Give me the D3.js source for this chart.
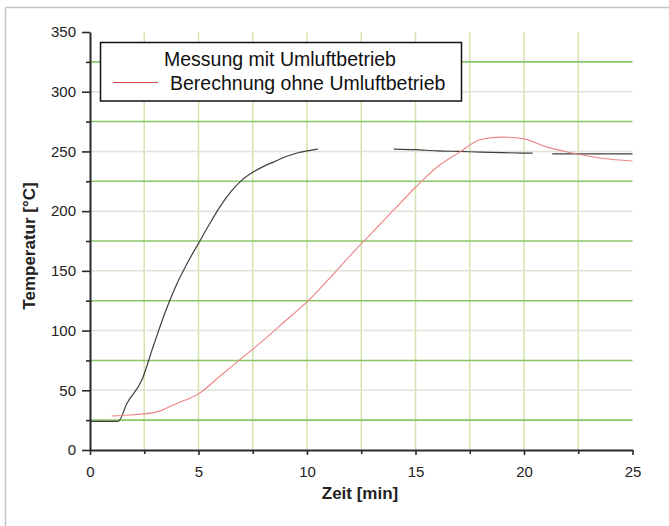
<!DOCTYPE html>
<html>
<head>
<meta charset="utf-8">
<script src="https://cdn.jsdelivr.net/npm/d3@7"></script>
<style>
  body { margin: 0; background: #fff; }
  svg { display: block; font-family: "Liberation Sans", Arial, sans-serif; }
</style>
</head>
<body>
<div id="chart"></div>
<script>
// Messung mit Umluftbetrieb (null = Luecke in der Messkurve)
var messTime = [0, 1.3, 1.7, 2.4, 2.9, 3.5, 4.0, 4.5, 5.0, 5.5, 6.0, 6.5, 7.0, 7.5, 8.0, 8.5, 9.0, 9.5, 10.0, 10.5,
                12.0,
                14.0, 15.0, 16.0, 17.0, 18.0, 19.0, 20.4,
                20.8,
                21.3, 22.0, 23.0, 24.0, 25.0];
var messTemp = [24, 24, 39, 59, 86, 117, 139, 157, 173, 189, 204, 216.5, 226, 232.5, 237.5, 241.5, 245.5, 248.5, 250.5, 252,
                null,
                252, 251.5, 250.5, 250, 249.5, 249, 248.5,
                null,
                248, 248, 248, 248, 248];

// Berechnung ohne Umluftbetrieb
var berTime = [1, 2, 3, 4, 5, 6, 7, 8, 9, 10, 11, 12, 13, 14, 15, 16, 17, 18, 19, 20, 21, 22, 23, 24, 25];
var berTemp = [28.5, 29.5, 31.5, 39, 47, 62, 77, 92, 108, 124, 143, 163, 182, 201, 220, 237, 249, 260, 262, 260.5, 254, 249.5, 246, 243.5, 242];

var xMajor = [0, 5, 10, 15, 20, 25];
var xMinor = [2.5, 7.5, 12.5, 17.5, 22.5];
var yMajor = [0, 50, 100, 150, 200, 250, 300, 350];
var yMinor = [25, 75, 125, 175, 225, 275, 325];
var legendLabels = ["Messung mit Umluftbetrieb", "Berechnung ohne Umluftbetrieb"];

var W = 669, H = 526;
var svg = d3.select("#chart").append("svg").attr("width", W).attr("height", H);

// outer frame (only top and left edge visible)
svg.append("line").attr("x1", 5.5).attr("x2", W).attr("y1", 7.5).attr("y2", 7.5)
    .attr("stroke", "#c4c4c4").attr("stroke-width", 1.5);
svg.append("line").attr("x1", 5.5).attr("x2", 5.5).attr("y1", 7.5).attr("y2", H)
    .attr("stroke", "#c4c4c4").attr("stroke-width", 1.5);

var x = d3.scaleLinear().domain([0, 25]).range([90, 632.5]);
var y = d3.scaleLinear().domain([0, 350]).range([450, 32]);

svg.append("clipPath").attr("id", "crop")
    .append("rect").attr("x", 0).attr("y", 0).attr("width", 641).attr("height", H);
var g = svg.append("g").attr("clip-path", "url(#crop)");

// grid
g.selectAll(".vgrid").data(xMinor.concat(xMajor.slice(1, -1))).enter().append("line")
    .attr("x1", function (d) { return x(d); }).attr("x2", function (d) { return x(d); })
    .attr("y1", y(0)).attr("y2", y(350))
    .attr("stroke", "#d3e4ae").attr("stroke-width", 1.5);
g.selectAll(".hgridLight").data(yMajor.slice(1, -1)).enter().append("line")
    .attr("x1", x(0)).attr("x2", x(25))
    .attr("y1", function (d) { return y(d); }).attr("y2", function (d) { return y(d); })
    .attr("stroke", "#dfe4d6").attr("stroke-width", 1.5);
g.selectAll(".hgrid").data(yMinor).enter().append("line")
    .attr("x1", x(0)).attr("x2", x(25))
    .attr("y1", function (d) { return y(d); }).attr("y2", function (d) { return y(d); })
    .attr("stroke", "#8cc468").attr("stroke-width", 1.6);

// curves
var lineMess = d3.line()
    .defined(function (d, i) { return messTemp[i] !== null; })
    .x(function (d, i) { return x(messTime[i]); })
    .y(function (d, i) { return y(messTemp[i]); })
    .curve(d3.curveMonotoneX);
g.append("path").attr("d", lineMess(messTime))
    .attr("fill", "none").attr("stroke", "#404040").attr("stroke-width", 1.2);

var lineBer = d3.line()
    .x(function (d, i) { return x(berTime[i]); })
    .y(function (d, i) { return y(berTemp[i]); })
    .curve(d3.curveMonotoneX);
g.append("path").attr("d", lineBer(berTime))
    .attr("fill", "none").attr("stroke", "#ec8486").attr("stroke-width", 1.1);

// axes
g.append("g").attr("transform", "translate(0,450)")
    .call(d3.axisBottom(x).tickValues(xMajor).tickSize(5).tickPadding(11).tickSizeOuter(0)
        .tickFormat(d3.format("d")));
g.append("g").attr("transform", "translate(0,450)")
    .call(d3.axisBottom(x).tickValues(xMinor).tickSize(4).tickFormat("").tickSizeOuter(0))
    .select(".domain").remove();
g.append("g").attr("transform", "translate(90,0)")
    .call(d3.axisLeft(y).tickValues(yMajor).tickSize(8).tickPadding(6).tickSizeOuter(0));
g.append("g").attr("transform", "translate(90,0)")
    .call(d3.axisLeft(y).tickValues(yMinor).tickSize(4).tickFormat("").tickSizeOuter(0))
    .select(".domain").remove();

g.selectAll(".domain").attr("stroke", "#2a2a2a").attr("stroke-width", 2);
g.selectAll(".tick line").attr("stroke", "#2a2a2a").attr("stroke-width", 1.6);
g.selectAll(".tick text").attr("fill", "#222").style("font-size", "15px")
    .style("font-family", "'Liberation Sans', Arial, sans-serif");

// axis titles
svg.append("text").attr("x", 360).attr("y", 499).attr("text-anchor", "middle")
    .style("font-size", "17px").style("font-weight", "bold").attr("fill", "#222")
    .text("Zeit [min]");
svg.append("text").attr("transform", "translate(35,246) rotate(-90)").attr("text-anchor", "middle")
    .style("font-size", "17px").style("font-weight", "bold").attr("fill", "#222")
    .text("Temperatur [°C]");

// legend
var leg = svg.append("g");
leg.append("rect").attr("x", 100.5).attr("y", 42.5).attr("width", 361).attr("height", 58.5)
    .attr("fill", "#fff").attr("stroke", "#111").attr("stroke-width", 1.5);
leg.append("text").attr("x", 164).attr("y", 65.5).style("font-size", "19.5px").attr("fill", "#111")
    .text(legendLabels[0]);
leg.append("line").attr("x1", 113).attr("x2", 158).attr("y1", 82.5).attr("y2", 82.5)
    .attr("stroke", "#d24848").attr("stroke-width", 1.2);
leg.append("text").attr("x", 170).attr("y", 90).style("font-size", "19.5px").attr("fill", "#111")
    .text(legendLabels[1]);
</script>
</body>
</html>
